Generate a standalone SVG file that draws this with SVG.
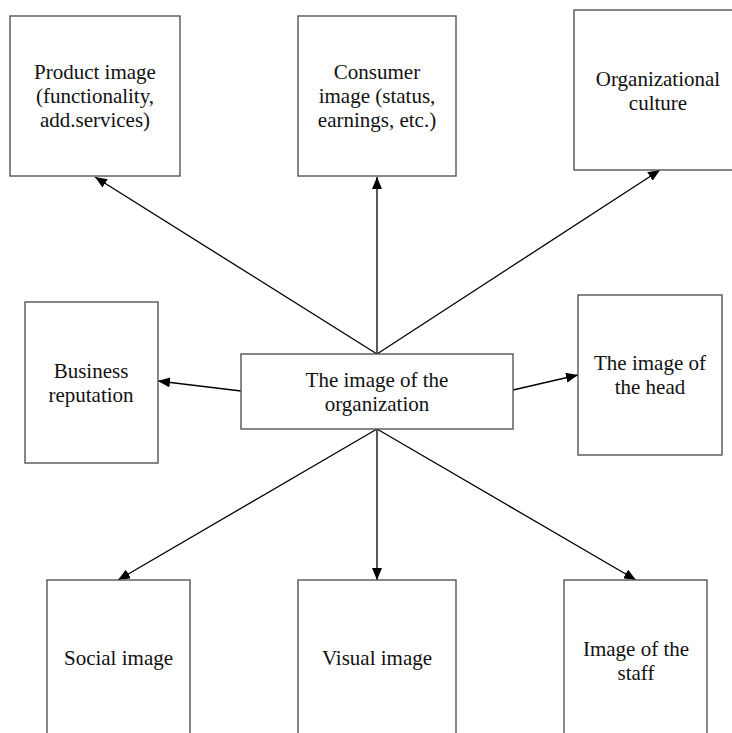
<svg xmlns="http://www.w3.org/2000/svg" width="732" height="733" viewBox="0 0 732 733">
<defs>
<marker id="ah" viewBox="0 0 12 10" refX="12" refY="5" markerWidth="12" markerHeight="10" markerUnits="userSpaceOnUse" orient="auto">
<path d="M0,0 L12,5 L0,10 z" fill="#000"/>
</marker>
<style>
rect.box{fill:#fff;stroke:#555;stroke-width:1.4}
text{font-family:"Liberation Serif","Times New Roman",serif;font-size:21px;fill:#111;text-anchor:middle}
#connectors line{stroke:#000;stroke-width:1.3;marker-end:url(#ah)}
</style>
</defs>
<rect width="732" height="733" fill="#fff"/>
<g id="connectors">
<line x1="377" y1="354" x2="95" y2="177"/>
<line x1="377" y1="354" x2="377" y2="177"/>
<line x1="377" y1="354" x2="660" y2="170"/>
<line x1="241" y1="391" x2="158" y2="381"/>
<line x1="513" y1="390" x2="578" y2="375"/>
<line x1="377" y1="429" x2="118" y2="580"/>
<line x1="377" y1="429" x2="377" y2="580"/>
<line x1="377" y1="429" x2="636" y2="580"/>
</g>
<g id="product"><rect class="box" x="10" y="16" width="170" height="160"/>
<text x="95" y="79">Product image</text><text x="95" y="103">(functionality,</text><text x="95" y="127">add.services)</text></g>
<g id="consumer"><rect class="box" x="298" y="16" width="158" height="160"/>
<text x="377" y="79">Consumer</text><text x="377" y="103">image (status,</text><text x="377" y="127">earnings, etc.)</text></g>
<g id="culture"><rect class="box" x="574" y="10" width="170" height="160"/>
<text x="658" y="86">Organizational</text><text x="658" y="110">culture</text></g>
<g id="reputation"><rect class="box" x="25" y="302" width="133" height="161"/>
<text x="91" y="378">Business</text><text x="91" y="402">reputation</text></g>
<g id="center"><rect class="box" x="241" y="354" width="272" height="75"/>
<text x="377" y="387">The image of the</text><text x="377" y="411">organization</text></g>
<g id="head"><rect class="box" x="578" y="295" width="144" height="160"/>
<text x="650" y="370">The image of</text><text x="650" y="394">the head</text></g>
<g id="social"><rect class="box" x="47" y="580" width="143" height="170"/>
<text x="118.5" y="665">Social image</text></g>
<g id="visual"><rect class="box" x="298" y="580" width="158" height="170"/>
<text x="377" y="665">Visual image</text></g>
<g id="staff"><rect class="box" x="564" y="580" width="143" height="170"/>
<text x="636" y="656">Image of the</text><text x="636" y="680">staff</text></g>
</svg>
